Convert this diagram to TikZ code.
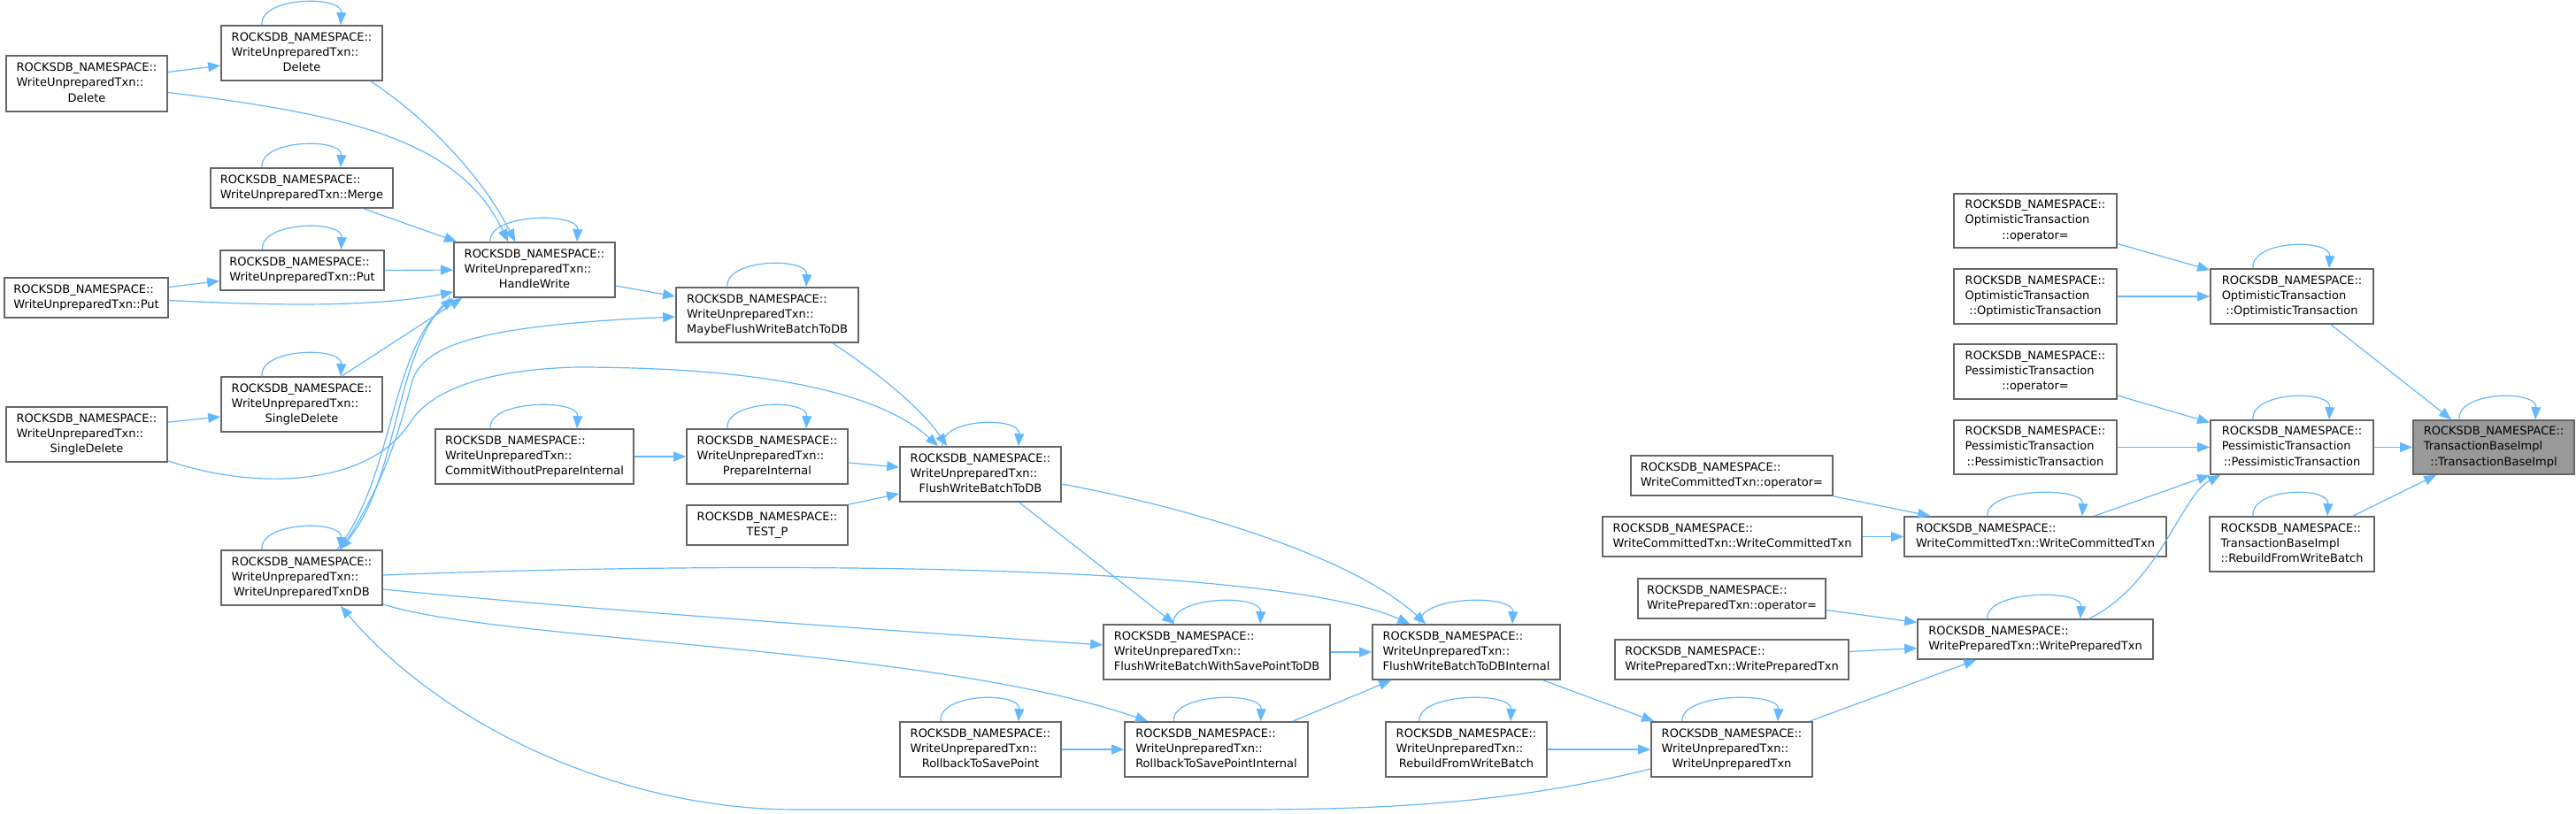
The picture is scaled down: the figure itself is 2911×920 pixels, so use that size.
\documentclass[tikz,border=0pt]{standalone}
\usepackage{fontspec}
\setmainfont{DejaVu Sans}
\usetikzlibrary{arrows.meta,calc}
\definecolor{edgeblue}{HTML}{63B8FF}
\definecolor{bordergray}{HTML}{666666}
\definecolor{rootgray}{HTML}{999999}
\newcommand{\rns}{ROCKSDB\_NAMESPACE::}
\newcommand{\twol}[2]{\begin{tabular}{@{}l@{}}#1\\\multicolumn{1}{@{}c@{}}{#2}\end{tabular}}
\newcommand{\threel}[3]{\begin{tabular}{@{}l@{}}#1\\#2\\\multicolumn{1}{@{}c@{}}{#3}\end{tabular}}
\newcommand{\wu}[1]{\threel{\rns}{WriteUnpreparedTxn::}{#1}}
\newcommand{\bx}[7][]{\node[box,#1,minimum width={(#5-#3)*0.5pt},minimum height={(#6-#4)*0.5pt}] (#2) at ({(#3+#5)/2},{(#4+#6)/2}) {#7};}
\newcommand{\sloop}[3]{\draw[cn] ($(#1.north)+(-#2,0)$) .. controls +(-3,-32) and +(2,-34) .. ($(#1.north)+(#3,0)$);}
\begin{document}
\begin{tikzpicture}[x=0.5pt,y=-0.5pt,
  box/.style={draw=bordergray,fill=white,line width=0.85pt,inner sep=0pt,
    font=\fontsize{6.5pt}{8.6pt}\selectfont},
  cn/.style={draw=edgeblue,line width=0.6pt,-{Triangle[length=7pt,width=5.5pt]}}]
\useasboundingbox (0,0) rectangle (2911,920);

% ---------- nodes ----------
\bx{DelO}{7}{63}{189}{126}{\wu{Delete}}
\bx{DelI}{250}{29}{432}{91}{\wu{Delete}}
\bx{Merge}{238}{190}{444}{235}{\twol{\rns}{WriteUnpreparedTxn::Merge}}
\bx{PutI}{249}{283}{434}{328}{\twol{\rns}{WriteUnpreparedTxn::Put}}
\bx{PutO}{5}{314}{190}{359}{\twol{\rns}{WriteUnpreparedTxn::Put}}
\bx{SDI}{250}{426}{432}{488}{\wu{SingleDelete}}
\bx{SDO}{7}{460}{189}{522}{\wu{SingleDelete}}
\bx{HW}{513}{274}{695}{336}{\wu{HandleWrite}}
\bx{MF}{764}{325}{970}{387}{\wu{MaybeFlushWriteBatchToDB}}
\bx{CWPI}{492}{485}{716}{547}{\wu{CommitWithoutPrepareInternal}}
\bx{PI}{776}{485}{958}{547}{\wu{PrepareInternal}}
\bx{TP}{776}{571}{958}{616}{\twol{\rns}{TEST\_P}}
\bx{FWB}{1017}{505}{1199}{567}{\wu{FlushWriteBatchToDB}}
\bx{WUDB}{250}{622}{432}{684}{\wu{WriteUnpreparedTxnDB}}
\bx{FSP}{1247}{706}{1503}{768}{\wu{FlushWriteBatchWithSavePointToDB}}
\bx{RSP}{1017}{816}{1199}{878}{\wu{RollbackToSavePoint}}
\bx{RSPI}{1271}{816}{1478}{878}{\wu{RollbackToSavePointInternal}}
\bx{FWBI}{1551}{706}{1763}{768}{\wu{FlushWriteBatchToDBInternal}}
\bx{WURB}{1566}{816}{1748}{878}{\wu{RebuildFromWriteBatch}}
\bx{WUC}{1866}{816}{2048}{878}{\wu{WriteUnpreparedTxn}}
\bx{WCTop}{1843}{515}{2071}{560}{\twol{\rns}{WriteCommittedTxn::operator=}}
\bx{WCTL}{1811}{584}{2104}{629}{\twol{\rns}{WriteCommittedTxn::WriteCommittedTxn}}
\bx{WPTop}{1851}{654}{2063}{699}{\twol{\rns}{WritePreparedTxn::operator=}}
\bx{WPTL}{1825}{723}{2089}{768}{\twol{\rns}{WritePreparedTxn::WritePreparedTxn}}
\bx{WCTM}{2152}{584}{2448}{629}{\twol{\rns}{WriteCommittedTxn::WriteCommittedTxn}}
\bx{WPTM}{2167}{700}{2433}{745}{\twol{\rns}{WritePreparedTxn::WritePreparedTxn}}
\bx{OptOp}{2208}{219}{2392}{280}{\threel{\rns}{OptimisticTransaction}{::operator=}}
\bx{OptL}{2208}{304}{2392}{366}{\threel{\rns}{OptimisticTransaction}{::OptimisticTransaction}}
\bx{OptM}{2498}{304}{2682}{366}{\threel{\rns}{OptimisticTransaction}{::OptimisticTransaction}}
\bx{PessOp}{2208}{389}{2392}{451}{\threel{\rns}{PessimisticTransaction}{::operator=}}
\bx{PessL}{2208}{475}{2392}{536}{\threel{\rns}{PessimisticTransaction}{::PessimisticTransaction}}
\bx{PessM}{2498}{475}{2682}{536}{\threel{\rns}{PessimisticTransaction}{::PessimisticTransaction}}
\bx[fill=rootgray]{TBI}{2727}{475}{2909}{536}{\threel{\rns}{TransactionBaseImpl}{::TransactionBaseImpl}}
\bx{TBIRB}{2497}{584}{2683}{646}{\threel{\rns}{TransactionBaseImpl}{::RebuildFromWriteBatch}}

% ---------- self loops ----------
\sloop{DelI}{45}{44}
\sloop{Merge}{45}{44}
\sloop{PutI}{45}{44}
\sloop{SDI}{45}{44}
\sloop{HW}{50}{48}
\sloop{MF}{45}{44}
\sloop{CWPI}{50}{48}
\sloop{PI}{45}{44}
\sloop{FWB}{43}{43}
\sloop{WUDB}{45}{44}
\sloop{FSP}{49}{49}
\sloop{RSP}{45}{43}
\sloop{RSPI}{48}{50}
\sloop{FWBI}{53}{52}
\sloop{WURB}{53}{50}
\sloop{WUC}{56}{52}
\sloop{WCTM}{54}{53}
\sloop{WPTM}{54}{51}
\sloop{OptM}{44}{42}
\sloop{PessM}{44}{42}
\sloop{TBI}{39}{47}
\sloop{TBIRB}{44}{40}

% ---------- left part ----------
\draw[cn] ($(DelO.east)+(0,-13)$) -- ($(DelI.west)+(0,14)$);
\draw[cn] ($(DelO.east)+(0,10)$) .. controls (400,130) and (520,160) .. ($(HW.north west)+(62,0)$);
\draw[cn] ($(DelI.south east)+(-14,0)$) .. controls (470,125) and (540,190) .. ($(HW.north west)+(70,0)$);
\draw[cn] ($(Merge.south east)+(-34,0)$) -- ($(HW.north west)+(4,0)$);
\draw[cn] (PutI.east) -- (HW.west);
\draw[cn] ($(PutO.east)+(0,-12)$) -- ($(PutI.west)+(0,12)$);
\draw[cn] ($(PutO.east)+(0,3)$) .. controls (300,345) and (420,348) .. ($(HW.west)+(0,25)$);
\draw[cn] ($(SDO.north east)+(0,18)$) -- ($(SDI.west)+(0,14)$);
\draw[cn] ($(SDI.north)+(45,0)$) -- ($(HW.south west)+(10,0)$);
\draw[cn] ($(SDO.south east)+(0,-2)$) .. controls (290,555) and (420,550) .. (465,475)
  .. controls (490,440) and (550,418) .. (650,415)
  .. controls (850,415) and (990,440) .. ($(FWB.north west)+(44,0)$);
\draw[cn] ($(HW.east)+(0,18)$) -- ($(MF.west)+(0,-21)$);
\draw[cn] ($(WUDB.north)+(44,0)$) .. controls (440,540) and (455,470) .. (466,430)
  .. controls (480,390) and (540,368) .. ($(MF.west)+(0,2)$);
\draw[cn] ($(WUDB.north)+(40,0)$) .. controls (445,540) and (440,400) .. (HW.south west);
\draw[cn] ($(HW.south west)+(-4,0)$) .. controls (445,395) and (452,540) .. ($(WUDB.north)+(43,0)$);
\draw[cn] ($(MF.south east)+(-30,0)$) .. controls (990,420) and (1040,460) .. ($(FWB.north west)+(54,0)$);
\draw[cn] (CWPI.east) -- (PI.west);
\draw[cn] ($(PI.east)+(0,7)$) -- ($(FWB.west)+(0,-8)$);
\draw[cn] (TP.north east) -- ($(FWB.west)+(0,22)$);

% ---------- middle part ----------
\draw[cn] ($(FWB.east)+(0,11)$) .. controls (1350,575) and (1530,630) .. ($(FWBI.north west)+(61,0)$);
\draw[cn] ($(WUDB.east)+(0,-3)$) .. controls (900,632) and (1450,640) .. ($(FWBI.north west)+(43,0)$);
\draw[cn] ($(FWB.south east)+(-48,0)$) -- ($(FSP.north west)+(81,0)$);
\draw[cn] ($(WUDB.east)+(0,13)$) .. controls (700,692) and (1000,712) .. ($(FSP.west)+(0,-8)$);
\draw[cn] ($(WUDB.south east)+(0,-2)$) .. controls (560,725) and (1050,730) .. ($(RSPI.north west)+(27,0)$);
\draw[cn] (FSP.east) -- (FWBI.west);
\draw[cn] ($(RSPI.north east)+(-18,0)$) -- ($(FWBI.south west)+(22,0)$);
\draw[cn] (RSP.east) -- (RSPI.west);
\draw[cn] ($(FWBI.south east)+(-20,0)$) -- ($(WUC.north west)+(4,0)$);
\draw[cn] (WURB.east) -- (WUC.west);
\draw[cn] ($(WUC.west)+(0,22)$) .. controls (1700,910) and (1550,915) .. (1400,915)
  -- (900,915) .. controls (700,915) and (500,820) .. ($(WUDB.south east)+(-48,0)$);

% ---------- right part ----------
\draw[cn] ($(WUC.north east)+(-4,0)$) -- ($(WPTM.south west)+(67,0)$);
\draw[cn] ($(WPTop.east)+(0,13)$) -- ($(WPTM.west)+(0,-19)$);
\draw[cn] ($(WPTL.east)+(0,-9)$) -- ($(WPTM.west)+(0,10)$);
\draw[cn] (WCTop.south east) -- ($(WCTM.north west)+(30,0)$);
\draw[cn] (WCTL.east) -- (WCTM.west);
\draw[cn] ($(WCTM.north east)+(-82,0)$) -- (PessM.south west);
\draw[cn] ($(WPTM.north east)+(-73,0)$) .. controls (2440,660) and (2465,560) .. ($(PessM.south west)+(12,0)$);
\draw[cn] ($(PessOp.east)+(0,27)$) -- ($(PessM.west)+(0,-28)$);
\draw[cn] (PessL.east) -- (PessM.west);
\draw[cn] ($(OptOp.east)+(0,26)$) -- ($(OptM.north west)+(0,2)$);
\draw[cn] (OptL.east) -- (OptM.west);
\draw[cn] ($(OptM.south)+(44,0)$) -- ($(TBI.north west)+(44,0)$);
\draw[cn] (PessM.east) -- (TBI.west);
\draw[cn] ($(TBIRB.north east)+(-25,0)$) -- ($(TBI.south west)+(27,0)$);
\end{tikzpicture}
\end{document}
